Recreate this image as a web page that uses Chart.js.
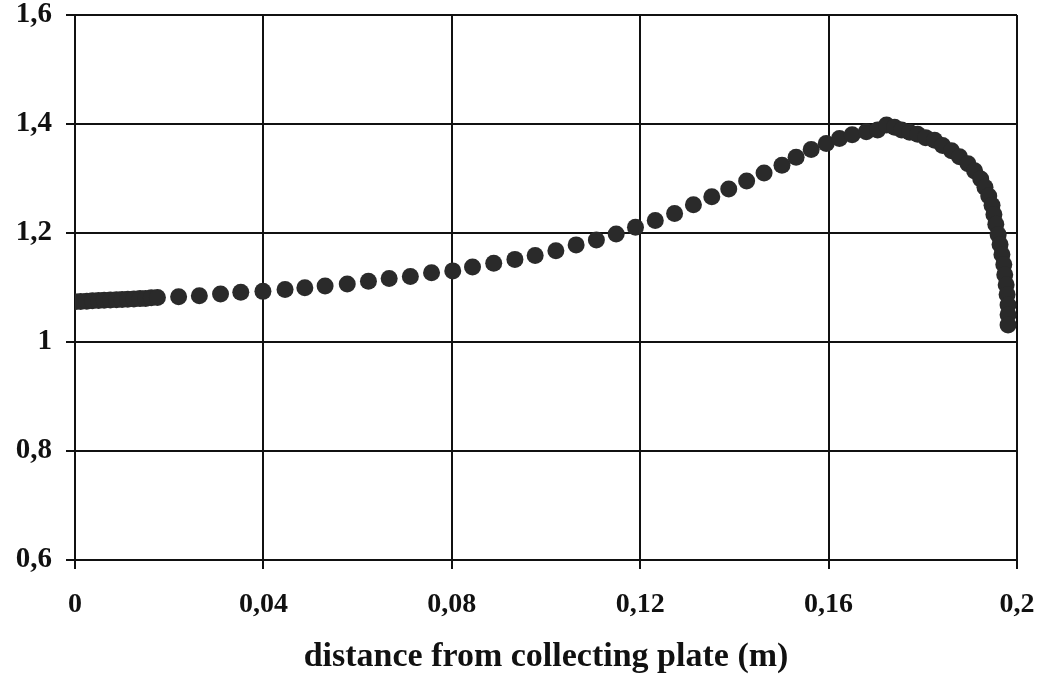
<!DOCTYPE html>
<html>
<head>
<meta charset="utf-8">
<script src="https://cdn.jsdelivr.net/npm/chart.js@4/dist/chart.umd.min.js"></script>
<style>
  html, body { margin: 0; padding: 0; background: #fff; overflow: hidden; }
  #wrap { position: relative; width: 1049px; height: 674px; }
</style>
</head>
<body>
<div id="wrap"><canvas id="chart"></canvas></div>
<script>
// values
var xValues = [
	0, 0.0012, 0.0025, 0.0037, 0.005, 0.0062, 0.0075, 0.0088, 0.01, 0.0112, 0.0125, 0.0138, 0.015, 0.0162, 0.0175,
	0.0220, 0.0264, 0.0309, 0.0352, 0.0399, 0.0446, 0.0488, 0.0531, 0.0578, 0.0623, 0.0667, 0.0712, 0.0757, 0.0802,
	0.0844, 0.0889, 0.0934, 0.0977, 0.1021, 0.1064, 0.1107, 0.1149, 0.1190, 0.1232, 0.1273, 0.1313, 0.1352, 0.1388,
	0.1426, 0.1463, 0.1501, 0.1531, 0.1563, 0.1595, 0.1623, 0.1650, 0.1680, 0.1704, 0.1723,
	0.1740, 0.1755, 0.1772, 0.1789, 0.1806, 0.1825, 0.1842, 0.1861, 0.1878, 0.1896, 0.1910, 0.1923, 0.1932, 0.1940,
	0.1947, 0.1951, 0.1955, 0.1960, 0.1964, 0.1968, 0.1972, 0.1974, 0.1977, 0.1979, 0.1981, 0.1981, 0.1981
];
var yValues = [
	1.074, 1.0745, 1.075, 1.0756, 1.076, 1.0766, 1.077, 1.0776, 1.078, 1.0786, 1.079, 1.0796, 1.080, 1.081, 1.0817,
	1.0832, 1.0847, 1.0880, 1.0914, 1.0929, 1.0962, 1.0996, 1.1029, 1.1063, 1.1115, 1.1167, 1.1200, 1.1270, 1.1305,
	1.1375, 1.1445, 1.1516, 1.1586, 1.1675, 1.1782, 1.1871, 1.1980, 1.2105, 1.2231, 1.2357, 1.2520, 1.2664, 1.2809,
	1.2953, 1.3099, 1.3243, 1.3389, 1.3533, 1.3642, 1.3732, 1.3803, 1.3857, 1.3892, 1.398,
	1.394, 1.389, 1.385, 1.381, 1.375, 1.370, 1.3605, 1.351, 1.340, 1.327, 1.314, 1.299, 1.284, 1.268,
	1.251, 1.234, 1.216, 1.197, 1.179, 1.1605, 1.142, 1.1235, 1.105, 1.087, 1.068, 1.050, 1.031
];

var xTickValues = [0, 0.04, 0.08, 0.12, 0.16, 0.2];
var xTickLabels = ['0', '0,04', '0,08', '0,12', '0,16', '0,2'];
var yTickValues = [0.6, 0.8, 1, 1.2, 1.4, 1.6];
var yTickLabels = ['0,6', '0,8', '1', '1,2', '1,4', '1,6'];

var xTitle = 'distance from collecting plate (m)';

( function () {
	'use strict';

	var points = xValues.map( function ( x, i ) {
		return { x: x, y: yValues[ i ] };
	} );

	Chart.defaults.font.family = '"Liberation Serif", "Times New Roman", serif';
	Chart.defaults.font.weight = 'bold';
	Chart.defaults.color = '#111';

	var gridStyle = {
		color: '#111',
		lineWidth: 2,
		drawTicks: true,
		tickLength: 9,
		tickColor: '#111',
		tickWidth: 2,
	};

	// eslint-disable-next-line no-new
	new Chart( document.getElementById( 'chart' ).getContext( '2d' ), {
		type: 'scatter',
		data: {
			datasets: [ {
				data: points,
				backgroundColor: '#2a2a2a',
				borderColor: '#2a2a2a',
				borderWidth: 0,
				pointRadius: 8.5,
				showLine: false,
			} ],
		},
		options: {
			responsive: true,
			maintainAspectRatio: false,
			animation: false,
			layout: { padding: { top: 15, right: 32, bottom: 0, left: 0 } },
			plugins: {
				legend: { display: false },
				tooltip: { enabled: false },
			},
			scales: {
				x: {
					type: 'linear',
					min: 0,
					max: 0.2,
					grid: gridStyle,
					border: { display: true, color: '#111', width: 2 },
					afterBuildTicks: function ( scale ) {
						scale.ticks = xTickValues.map( function ( v ) { return { value: v }; } );
					},
					afterFit: function ( scale ) {
						scale.height = 114;
						scale.paddingLeft = 0;
						scale.paddingRight = 0;
					},
					ticks: {
						padding: 22,
						maxRotation: 0,
						autoSkip: false,
						font: { size: 28, weight: 'bold', lineHeight: 1 },
						callback: function ( value, index ) {
							return xTickLabels[ index ];
						},
					},
					title: {
						display: true,
						text: xTitle,
						font: { size: 34, weight: 'bold', lineHeight: 1 },
						padding: { top: 0, bottom: 0 },
					},
				},
				y: {
					type: 'linear',
					min: 0.6,
					max: 1.6,
					grid: gridStyle,
					border: { display: true, color: '#111', width: 2 },
					afterBuildTicks: function ( scale ) {
						scale.ticks = yTickValues.map( function ( v ) { return { value: v }; } );
					},
					afterFit: function ( scale ) {
						scale.width = 75;
						scale.paddingTop = 0;
						scale.paddingBottom = 0;
					},
					ticks: {
						padding: 14,
						autoSkip: false,
						font: { size: 29, weight: 'bold', lineHeight: 1 },
						callback: function ( value, index ) {
							return yTickLabels[ index ];
						},
					},
				},
			},
		},
	} );
} )();
</script>
</body>
</html>
